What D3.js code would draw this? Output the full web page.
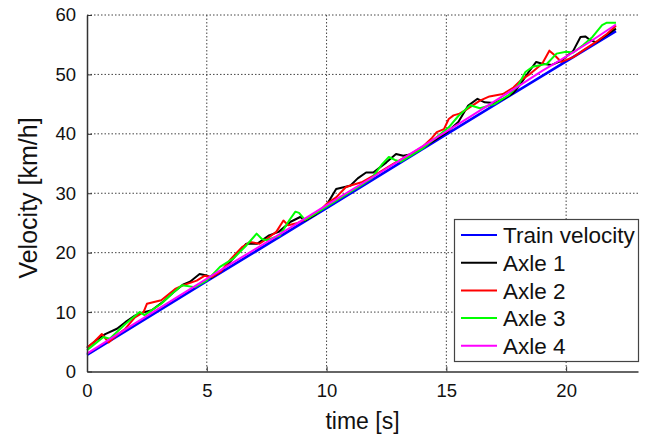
<!DOCTYPE html>
<html>
<head>
<meta charset="utf-8">
<script src="https://cdn.jsdelivr.net/npm/d3@7"></script>
<style>
  html, body { margin: 0; padding: 0; background: #fff; }
  svg { display: block; font-family: "Liberation Sans", Arial, sans-serif; }
</style>
</head>
<body>
<svg id="chart" width="649" height="436"></svg>
<script>
// Measured wheel/axle speeds against the train reference speed
const trainTime = [0, 5, 10, 15, 20, 22.08];
const trainSpeed = [2.8, 15.2, 27.5, 39.9, 52.2, 57.3];

const axle1Time = [0, 0.4, 0.76, 1.25, 1.6, 2.0, 2.3, 2.7, 3.2, 3.6, 4.0, 4.3, 4.7, 4.95, 5.2, 5.6, 6.1, 6.65, 7.1, 7.6, 8.0, 8.5, 8.9, 9.1, 9.5, 10.0, 10.4, 10.8, 11.0, 11.3, 11.65, 11.95, 12.5, 12.9, 13.2, 13.6, 14.5, 15.0, 15.5, 15.9, 16.3, 16.6, 17.0, 17.4, 17.8, 18.05, 18.4, 18.75, 19.0, 19.4, 19.8, 20.3, 20.6, 20.8, 21.0, 21.25, 21.6, 22.08];
const axle1Speed = [4.0, 5.3, 6.3, 7.2, 8.3, 9.4, 9.9, 10.3, 11.8, 13.3, 14.6, 15.1, 16.4, 16.2, 15.8, 16.9, 19.0, 21.5, 21.5, 22.9, 23.5, 25.2, 26.0, 25.4, 26.3, 28.0, 30.7, 31.1, 31.3, 32.5, 33.5, 33.5, 35.2, 36.6, 36.3, 36.6, 38.9, 40.2, 42.0, 44.7, 45.9, 45.3, 45.2, 45.9, 46.9, 48.1, 50.2, 52.1, 51.8, 51.6, 52.3, 54.0, 56.3, 56.4, 55.8, 55.4, 56.4, 57.7];

const axle2Time = [0, 0.3, 0.62, 0.9, 1.3, 1.6, 2.0, 2.36, 2.5, 3.1, 3.68, 4.0, 4.58, 4.9, 5.2, 5.6, 6.0, 6.46, 6.8, 7.2, 7.5, 7.9, 8.2, 8.4, 8.8, 9.3, 9.7, 10.0, 10.4, 10.8, 11.0, 11.5, 12.2, 12.8, 13.5, 14.0, 14.4, 14.6, 14.9, 15.1, 15.3, 15.55, 15.8, 16.4, 16.8, 17.36, 17.8, 18.1, 18.5, 19.0, 19.3, 19.5, 19.8, 20.3, 20.8, 21.3, 21.7, 22.08];
const axle2Speed = [4.0, 5.0, 6.3, 4.9, 6.3, 7.2, 9.1, 10.0, 11.4, 12.0, 13.9, 14.5, 15.3, 16.1, 15.9, 16.9, 18.9, 20.9, 21.8, 21.5, 22.3, 23.5, 25.4, 24.6, 25.0, 26.0, 27.0, 28.2, 29.3, 31.0, 31.3, 31.9, 33.5, 35.0, 36.6, 37.8, 39.3, 40.3, 40.8, 42.5, 43.1, 43.4, 44.0, 45.6, 46.3, 46.7, 47.8, 49.0, 50.1, 51.8, 54.0, 53.3, 52.1, 52.9, 54.3, 55.6, 56.8, 58.2];

const axle3Time = [0, 0.69, 0.95, 1.6, 2.2, 2.4, 3.1, 3.5, 3.96, 4.5, 5.0, 5.55, 6.1, 6.67, 7.08, 7.3, 7.5, 8.05, 8.45, 8.7, 8.85, 9.1, 9.5, 10.5, 11.5, 11.9, 12.3, 12.6, 12.85, 13.1, 14.0, 15.1, 15.5, 16.0, 16.4, 17.0, 17.6, 18.0, 18.3, 18.6, 19.2, 19.6, 20.0, 20.3, 20.7, 21.1, 21.5, 21.7, 22.08];
const axle3Speed = [3.6, 5.8, 5.5, 8.0, 10.0, 9.5, 11.4, 12.9, 14.5, 14.2, 15.3, 17.6, 19.0, 21.3, 23.2, 22.3, 22.1, 22.9, 25.5, 26.9, 26.7, 25.5, 26.5, 29.0, 31.5, 32.6, 34.8, 36.1, 35.6, 35.3, 37.5, 41.1, 43.0, 44.8, 44.3, 45.0, 46.5, 48.2, 50.4, 51.3, 51.8, 53.5, 53.8, 53.7, 54.9, 56.3, 58.3, 58.7, 58.7];

const axle4Time = [0, 2, 4, 6, 8, 10, 12, 14, 16, 18, 19, 20, 21, 22.08];
const axle4Speed = [3.0, 8.1, 13.1, 18.1, 23.0, 28.0, 32.9, 37.9, 42.9, 48.0, 50.6, 53.0, 55.5, 58.4];

const seriesNames = ["Train velocity", "Axle 1", "Axle 2", "Axle 3", "Axle 4"];
const seriesColors = ["#0000ff", "#000000", "#ff0000", "#00ff00", "#ff00ff"];

const xTicks = [0, 5, 10, 15, 20];
const yTicks = [0, 10, 20, 30, 40, 50, 60];

const series = [
  { t: trainTime, v: trainSpeed },
  { t: axle1Time, v: axle1Speed },
  { t: axle2Time, v: axle2Speed },
  { t: axle3Time, v: axle3Speed },
  { t: axle4Time, v: axle4Speed }
].map((s, i) => ({
  name: seriesNames[i],
  color: seriesColors[i],
  points: s.t.map((t, j) => [t, s.v[j]])
}));

const svg = d3.select("#chart");
const plot = { left: 87, top: 15, right: 638, bottom: 371.5 };

const x = d3.scaleLinear().domain([0, 23]).range([plot.left, plot.right]);
const y = d3.scaleLinear().domain([0, 60]).range([plot.bottom, plot.top]);

// dotted grid
const grid = svg.append("g").attr("stroke", "#444").attr("stroke-width", 1)
  .attr("stroke-dasharray", "1.5,2");
grid.selectAll("line.v").data(xTicks.slice(1)).join("line")
  .attr("x1", d => x(d)).attr("x2", d => x(d))
  .attr("y1", plot.top).attr("y2", plot.bottom);
grid.selectAll("line.h").data(yTicks.slice(1)).join("line")
  .attr("x1", plot.left).attr("x2", plot.right)
  .attr("y1", d => y(d)).attr("y2", d => y(d));

// data lines
const line = d3.line().x(d => x(d[0])).y(d => y(d[1]));
svg.append("g").selectAll("path").data(series).join("path")
  .attr("d", d => line(d.points))
  .attr("fill", "none")
  .attr("stroke", d => d.color)
  .attr("stroke-width", (d, i) => i === 0 ? 2.6 : 2)
  .attr("stroke-linejoin", "round");

// axes
const xAxis = d3.axisBottom(x).tickValues(xTicks).tickSizeInner(-5).tickSizeOuter(0).tickPadding(12);
const yAxis = d3.axisLeft(y).tickValues(yTicks).tickSizeInner(-5).tickSizeOuter(0).tickPadding(11);

const gx = svg.append("g").attr("transform", `translate(0,${plot.bottom})`).call(xAxis);
const gy = svg.append("g").attr("transform", `translate(${plot.left},0)`).call(yAxis);
[gx, gy].forEach(g => {
  g.select(".domain").attr("stroke", "#333").attr("stroke-width", 1.5);
  g.selectAll(".tick line").attr("stroke", "#333").attr("stroke-width", 1);
  g.selectAll(".tick text").attr("fill", "#111").attr("font-size", 18.5)
    .attr("font-family", "'Liberation Sans', Arial, sans-serif");
});

// axis titles
svg.append("text")
  .attr("x", x(11.5)).attr("y", 429)
  .attr("text-anchor", "middle").attr("font-size", 23).attr("fill", "#111")
  .text("time [s]");
svg.append("text")
  .attr("transform", `translate(37,198) rotate(-90)`)
  .attr("text-anchor", "middle").attr("font-size", 25).attr("fill", "#111")
  .text("Velocity [km/h]");

// legend
const legend = svg.append("g");
legend.append("rect")
  .attr("x", 454.5).attr("y", 219.5).attr("width", 184).attr("height", 142)
  .attr("fill", "#fff").attr("stroke", "#444").attr("stroke-width", 1.2);
const rows = legend.selectAll("g.row").data(series).join("g")
  .attr("transform", (d, i) => `translate(0,${235 + i * 27.7})`);
rows.append("line")
  .attr("x1", 461).attr("x2", 497).attr("y1", 0).attr("y2", 0)
  .attr("stroke", d => d.color).attr("stroke-width", 2);
rows.append("text")
  .attr("x", 503).attr("y", 0).attr("dy", "0.36em")
  .attr("font-size", 22.5).attr("fill", "#111")
  .text(d => d.name);
</script>
</body>
</html>
